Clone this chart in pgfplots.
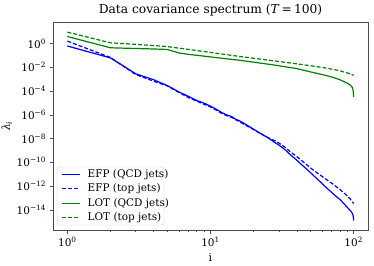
\documentclass[border=0pt]{standalone}
\usepackage{fontspec}
\setmainfont{DejaVu Serif}
\usepackage{pgfplots}
\pgfplotsset{compat=1.18}
\definecolor{mplgreen}{RGB}{0,128,0}
\begin{document}
\begin{tikzpicture}
\begin{axis}[
  xmode=log, ymode=log,
  scale only axis, width=315bp, height=208bp,
  xmin=0.794, xmax=125.9,
  ymin=2e-16, ymax=63,
  axis line style={black!70},
  every tick/.style={black!70},
  tick align=outside, tickwidth=3.5bp, subtickwidth=2bp,
  xtick={1,10,100},
  xticklabels={10\textsuperscript{0},10\textsuperscript{1},10\textsuperscript{2}},
  ytick={1,1e-2,1e-4,1e-6,1e-8,1e-10,1e-12,1e-14},
  yticklabels={10\textsuperscript{0},10\textsuperscript{−2},10\textsuperscript{−4},10\textsuperscript{−6},10\textsuperscript{−8},10\textsuperscript{−10},10\textsuperscript{−12},10\textsuperscript{−14}},
  yminorticks=false,
  xtick pos=bottom, ytick pos=left,
  tick label style={font=\fontsize{10.5}{12}\selectfont},
  title={Data covariance spectrum (\textit{T}\,=\,100)},
  title style={font=\fontsize{12.3}{14}\selectfont, yshift=-4bp},
  xlabel={i}, ylabel={\textit{λ}\textsubscript{\textit{i}}},
  label style={font=\fontsize{11}{13}\selectfont},
  xlabel style={yshift=0bp},
  ylabel style={yshift=-2bp},
]
\addplot[draw=blue, line width=1.2bp] coordinates {
(1,0.603) (2,0.0603) (3,2.82e-3) (4,8.91e-4) (5,2.82e-4) (6,8.32e-5) (7,3.55e-5) (8,1.58e-5) (9,9.55e-6) (10,5.25e-6)
(11,2.82e-6) (12,1.51e-6) (13,9.55e-7) (14,7.08e-7) (15,4.17e-7) (16,3.02e-7) (18,1.32e-7) (20,6.03e-8) (22,3.02e-8) (24,1.66e-8)
(26,8.91e-9) (28,4.79e-9) (30,2.82e-9) (33,1.20e-9) (36,4.47e-10) (40,1.51e-10) (45,4.17e-11) (50,1.32e-11) (55,4.47e-12) (60,1.66e-12)
(65,6.61e-13) (70,3.02e-13) (75,1.41e-13) (80,7.59e-14) (85,3.55e-14) (90,1.66e-14) (95,8.32e-15) (97,6.03e-15) (99,3.55e-15) (100,1.26e-15)
};
\addplot[draw=blue, line width=1.2bp, dash pattern=on 4bp off 2bp] coordinates {
(1,1.55) (2,0.0661) (3,2.40e-3) (4,6.61e-4) (5,2.63e-4) (6,7.59e-5) (7,2.82e-5) (8,1.41e-5) (9,7.59e-6) (10,4.47e-6)
(11,2.40e-6) (12,1.26e-6) (13,8.32e-7) (14,6.03e-7) (15,3.80e-7) (16,2.51e-7) (18,1.12e-7) (20,5.62e-8) (22,2.82e-8) (24,1.58e-8)
(26,1.00e-8) (28,6.61e-9) (30,4.17e-9) (33,1.91e-9) (36,7.94e-10) (40,3.02e-10) (45,9.55e-11) (50,3.31e-11) (55,1.41e-11) (60,6.61e-12)
(65,3.31e-12) (70,1.78e-12) (75,9.55e-13) (80,5.25e-13) (85,2.82e-13) (90,1.51e-13) (95,7.59e-14) (98,4.79e-14) (100,3.31e-14)
};
\addplot[draw=mplgreen, line width=1.2bp] coordinates {
(1,3.80) (2,0.427) (3,0.372) (4,0.339) (5,0.309) (6,0.158) (7,0.120) (8,0.100) (10,0.0724) (13,0.0501)
(16,0.0380) (20,0.0263) (25,0.0182) (30,0.0132) (40,7.59e-3) (50,3.98e-3) (60,2.40e-3) (70,1.51e-3) (80,8.91e-4) (90,4.57e-4)
(95,3.02e-4) (98,1.91e-4) (99,1.26e-4) (100,3.24e-5)
};
\addplot[draw=mplgreen, line width=1.2bp, dash pattern=on 4bp off 2bp] coordinates {
(1,8.91) (2,1.12) (3,0.832) (4,0.661) (5,0.537) (6,0.398) (7,0.316) (8,0.251) (10,0.174) (13,0.112)
(16,0.0794) (20,0.0562) (25,0.0398) (30,0.0302) (40,0.0191) (50,0.0132) (60,9.55e-3) (70,6.92e-3) (80,5.01e-3) (90,3.31e-3)
(100,2.09e-3)
};
% legend (drawn by hand)
\draw[draw=black!20, fill=white, rounded corners=2.5bp] ([shift={(4bp,5bp)}]axis description cs:0,0) rectangle ([shift={(111bp,63bp)}]axis description cs:0,0);
\begin{scope}[every node/.style={anchor=west, inner sep=0pt, font=\fontsize{10.5}{12}\selectfont}]
\node at ([shift={(34.5bp,55.5bp)}]axis description cs:0,0) {EFP (QCD jets)};
\node at ([shift={(34.5bp,41.5bp)}]axis description cs:0,0) {EFP (top jets)};
\node at ([shift={(34.5bp,26.5bp)}]axis description cs:0,0) {LOT (QCD jets)};
\node at ([shift={(34.5bp,12.5bp)}]axis description cs:0,0) {LOT (top jets)};
\end{scope}
\draw[draw=blue, line width=1.4bp] ([shift={(9bp,55.5bp)}]axis description cs:0,0) -- ++(18bp,0bp);
\draw[draw=blue, line width=1.4bp, dash pattern=on 4bp off 2bp] ([shift={(9bp,41.5bp)}]axis description cs:0,0) -- ++(18bp,0bp);
\draw[draw=mplgreen, line width=1.8bp] ([shift={(9bp,26.5bp)}]axis description cs:0,0) -- ++(18bp,0bp);
\draw[draw=mplgreen, line width=1.8bp, dash pattern=on 4bp off 2bp] ([shift={(9bp,12.5bp)}]axis description cs:0,0) -- ++(18bp,0bp);
\end{axis}
\pgfresetboundingbox
\path ([shift={(-53bp,-36bp)}]current axis.south west) rectangle ([shift={(6bp,22bp)}]current axis.north east);
\end{tikzpicture}
\end{document}
